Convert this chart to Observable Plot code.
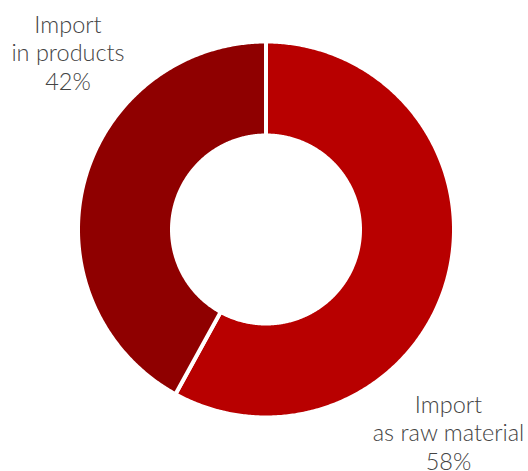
<!DOCTYPE html>
<html>
<head>
<meta charset="utf-8">
<script src="https://cdn.jsdelivr.net/npm/d3@7"></script>
<script src="https://cdn.jsdelivr.net/npm/@observablehq/plot@0.6"></script>
<style>
  html, body { margin: 0; padding: 0; background: #fff; }
  #chart svg { display: block; }
</style>
</head>
<body>
<div id="chart"></div>
<script>
// Data
const categories = ["Import as raw material", "Import in products"];
const shares = [58, 42];
const labelLines = ["Import\nas raw material\n58%", "Import\nin products\n42%"];
const colors = ["#b80000", "#8f0000"];

// Layout (pixel-unit scales centred on the donut)
const W = 528, H = 471;
const cx = 265.5, cy = 229;
const rOuter = 188, rInner = 94;
const labelPos = [[448 - cx, 431.5 - cy], [67.5 - cx, 51.5 - cy]];

const total = d3.sum(shares);
const points = [];
let acc = 0;
categories.forEach((cat, i) => {
  const a0 = acc / total * 2 * Math.PI;
  acc += shares[i];
  const a1 = acc / total * 2 * Math.PI;
  const n = Math.max(2, Math.ceil((a1 - a0) / (Math.PI / 360)));
  for (let k = 0; k <= n; k++) {
    const a = a0 + (a1 - a0) * k / n;
    points.push({cat, x: rOuter * Math.sin(a), y: -rOuter * Math.cos(a)});
  }
  for (let k = n; k >= 0; k--) {
    const a = a0 + (a1 - a0) * k / n;
    points.push({cat, x: rInner * Math.sin(a), y: -rInner * Math.cos(a)});
  }
});

const labels = categories.map((cat, i) => ({
  cat, text: labelLines[i], x: labelPos[i][0], y: labelPos[i][1]
}));

const chart = Plot.plot({
  width: W,
  height: H,
  margin: 0,
  x: {domain: [-cx, W - cx], range: [0, W], axis: null},
  y: {domain: [-cy, H - cy], range: [0, H], axis: null},
  color: {domain: categories, range: colors},
  style: {fontFamily: "Lato, sans-serif", background: "#fff"},
  marks: [
    Plot.line(points, {
      x: "x", y: "y", z: "cat", fill: "cat",
      stroke: "white", strokeWidth: 4, curve: "linear-closed"
    }),
    Plot.text(labels, {
      x: "x", y: "y", text: "text",
      fontSize: 23.5, lineHeight: 1.213, fill: "#444",
      fontWeight: 300, fontFamily: "'Lato Light', Lato, sans-serif"
    })
  ]
});
document.getElementById("chart").appendChild(chart);
</script>
</body>
</html>
